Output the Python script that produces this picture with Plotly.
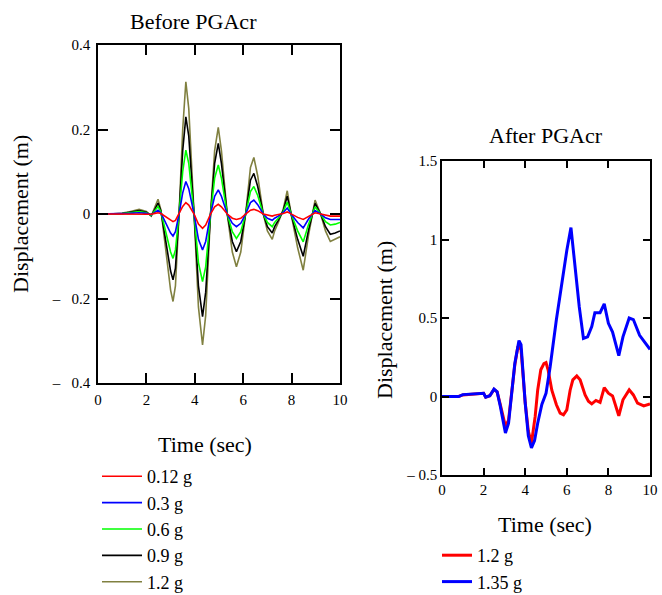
import plotly.graph_objects as go

# ---------------- data: Before PGAcr ----------------
t_before = [0, 0.5, 1.0, 1.3, 1.7, 2.0, 2.2, 2.35, 2.48, 2.6,
            2.8, 3.0, 3.1, 3.2, 3.35, 3.5, 3.63, 3.75, 3.97, 4.15,
            4.32, 4.45, 4.65, 4.82, 4.97, 5.1, 5.34, 5.55, 5.72, 5.9,
            6.1, 6.3, 6.44, 6.6, 6.83, 7.0, 7.2, 7.3, 7.45, 7.65,
            7.82, 8.0, 8.25, 8.48, 8.7, 8.97, 9.2, 9.4, 9.6, 9.8, 10]

d_012 = [0, 0, 0, 0.0005, 0.001, 0.0005, -0.0005, 0.0015, 0.003, 0.001,
         -0.007, -0.016, -0.018, -0.015, 0.0, 0.018, 0.027, 0.021, 0.0, -0.024,
         -0.034, -0.026, 0.0, 0.017, 0.023, 0.017, 0.0, -0.01, -0.013, -0.01,
         0.0, 0.009, 0.011, 0.008, 0.0, -0.003, -0.005, -0.003, -0.002, 0.001,
         0.005, -0.001, -0.008, -0.013, -0.005, 0.003, 0.0, -0.003, -0.005, -0.005, -0.005]

d_03 = [0, 0, 0.0005, 0.0015, 0.003, 0.0015, -0.0015, 0.004, 0.009, 0.0025,
        -0.02, -0.045, -0.052, -0.042, 0.0, 0.05, 0.077, 0.06, 0.0, -0.06,
        -0.085, -0.065, 0.0, 0.042, 0.057, 0.042, 0.0, -0.022, -0.03, -0.022,
        0.0, 0.027, 0.033, 0.022, 0.0, -0.01, -0.015, -0.01, -0.005, 0.003,
        0.014, -0.002, -0.02, -0.033, -0.012, 0.008, 0.0, -0.009, -0.013, -0.013, -0.013]

d_06 = [0, 0, 0.001, 0.003, 0.006, 0.003, -0.003, 0.008, 0.018, 0.005,
        -0.04, -0.09, -0.105, -0.085, 0.0, 0.1, 0.151, 0.12, 0.0, -0.115,
        -0.16, -0.125, 0.0, 0.085, 0.116, 0.085, 0.0, -0.042, -0.058, -0.042,
        0.0, 0.053, 0.065, 0.044, 0.0, -0.02, -0.03, -0.02, -0.01, 0.005,
        0.028, -0.003, -0.04, -0.066, -0.025, 0.017, 0.0, -0.018, -0.026, -0.024, -0.02]

d_09 = [0, 0, 0.001, 0.004, 0.008, 0.004, -0.004, 0.011, 0.026, 0.007,
        -0.06, -0.135, -0.156, -0.128, 0.0, 0.15, 0.23, 0.185, 0.0, -0.17,
        -0.243, -0.185, 0.0, 0.12, 0.167, 0.12, 0.0, -0.065, -0.089, -0.065,
        0.0, 0.08, 0.096, 0.065, 0.0, -0.03, -0.045, -0.03, -0.015, 0.008,
        0.042, -0.005, -0.06, -0.1, -0.038, 0.025, 0.0, -0.03, -0.048, -0.045, -0.04]

d_12 = [0, 0, 0.002, 0.005, 0.011, 0.006, -0.005, 0.015, 0.035, 0.01,
        -0.08, -0.18, -0.207, -0.17, 0.0, 0.2, 0.313, 0.25, 0.0, -0.22,
        -0.31, -0.24, 0.0, 0.15, 0.205, 0.15, 0.0, -0.09, -0.125, -0.09,
        0.0, 0.11, 0.134, 0.09, 0.0, -0.04, -0.06, -0.04, -0.02, 0.01,
        0.055, -0.006, -0.08, -0.133, -0.05, 0.033, 0.0, -0.04, -0.065, -0.06, -0.054]

before_names = ["0.12 g", "0.3 g", "0.6 g", "0.9 g", "1.2 g"]
before_colors = ["#ff0000", "#0000ff", "#00ff00", "#000000", "#808040"]
before_series = [d_012, d_03, d_06, d_09, d_12]

# ---------------- data: After PGAcr ----------------
t_after_12 = [0, 0.8, 1.0, 1.5, 2.0, 2.1, 2.3, 2.5, 2.65, 2.8,
              3.05, 3.2, 3.3, 3.5, 3.65, 3.8, 4.0, 4.15, 4.3, 4.48,
              4.6, 4.75, 4.9, 5.0, 5.1, 5.28, 5.5, 5.68, 5.84, 6.0,
              6.16, 6.29, 6.48, 6.64, 6.88, 7.04, 7.2, 7.4, 7.6, 7.8,
              8.0, 8.2, 8.5, 8.7, 9.0, 9.2, 9.4, 9.7, 10]
a_12 = [0, 0, 0.01, 0.015, 0.02, -0.004, 0.005, 0.045, 0.03, -0.05,
        -0.19, -0.15, -0.04, 0.2, 0.32, 0.3, -0.04, -0.22, -0.297, -0.127,
        0.04, 0.17, 0.21, 0.216, 0.17, 0.04, -0.053, -0.106, -0.117, -0.085,
        0.04, 0.106, 0.131, 0.106, 0.01, -0.03, -0.047, -0.025, -0.038, 0.057,
        0.021, 0.004, -0.123, -0.021, 0.042, 0.01, -0.042, -0.06, -0.047]

t_after_135 = [0, 0.8, 1.0, 1.5, 2.0, 2.1, 2.3, 2.5, 2.65, 2.8,
               3.05, 3.2, 3.3, 3.5, 3.7, 3.8, 4.0, 4.15, 4.3, 4.45,
               4.6, 4.8, 5.0, 5.2, 5.5, 5.8, 6.0, 6.2, 6.4, 6.6,
               6.8, 7.0, 7.2, 7.35, 7.6, 7.8, 8.0, 8.2, 8.5, 8.7,
               9.0, 9.2, 9.5, 10]
a_135 = [0, 0, 0.012, 0.017, 0.02, -0.004, 0.005, 0.047, 0.03, -0.06,
         -0.233, -0.17, -0.04, 0.21, 0.356, 0.33, -0.04, -0.25, -0.328, -0.28,
         -0.17, -0.05, 0.02, 0.19, 0.49, 0.77, 0.93, 1.076, 0.826, 0.57,
         0.37, 0.38, 0.445, 0.534, 0.534, 0.59, 0.466, 0.41, 0.26, 0.38,
         0.50, 0.49, 0.39, 0.30]

after_names = ["1.2 g", "1.35 g"]
after_colors = ["#ff0000", "#0000ff"]

x_ticks = [0, 2, 4, 6, 8, 10]
y_ticks_before = [-0.4, -0.2, 0, 0.2, 0.4]
y_text_before = ["\u2013\u2002 0.4", "\u2013\u2002 0.2", "0", "0.2", "0.4"]
y_ticks_after = [-0.5, 0, 0.5, 1, 1.5]
y_text_after = ["\u2013 0.5", "0", "0.5", "1", "1.5"]

W, H = 662, 595
FONT = "Liberation Serif"

def px(x):
    return x / W

def py(y):
    return 1 - y / H

fig = go.Figure()

# draw heavier series first so the small ones stay on top
for i in reversed(range(len(before_series))):
    fig.add_trace(go.Scatter(
        x=t_before, y=before_series[i], mode="lines", name=before_names[i],
        line=dict(color=before_colors[i], width=1.6),
        xaxis="x", yaxis="y", legend="legend", legendrank=i + 1))

fig.add_trace(go.Scatter(
    x=t_after_12, y=a_12, mode="lines", name=after_names[0],
    line=dict(color=after_colors[0], width=3),
    xaxis="x2", yaxis="y2", legend="legend2", legendrank=1))
fig.add_trace(go.Scatter(
    x=t_after_135, y=a_135, mode="lines", name=after_names[1],
    line=dict(color=after_colors[1], width=3),
    xaxis="x2", yaxis="y2", legend="legend2", legendrank=2))

axis_common = dict(showline=True, linecolor="black", linewidth=1.5, mirror="ticks",
                   ticks="inside", tickcolor="black", tickwidth=1.5,
                   showgrid=False, zeroline=False,
                   tickfont=dict(family=FONT, size=15, color="black"))

fig.update_layout(
    width=W, height=H,
    margin=dict(l=0, r=0, t=0, b=0, autoexpand=False),
    paper_bgcolor="white", plot_bgcolor="white",
    font=dict(family=FONT, color="black"),
    xaxis=dict(domain=[px(98), px(340)], range=[0, 10], tickvals=x_ticks,
               ticklen=10, ticklabelstandoff=2, anchor="y", **axis_common),
    yaxis=dict(domain=[py(383), py(45)], range=[-0.4, 0.4], tickvals=y_ticks_before,
               ticktext=y_text_before, ticklen=10, ticklabelstandoff=3, anchor="x",
               **axis_common),
    xaxis2=dict(domain=[px(442), px(650)], range=[0, 10], tickvals=x_ticks,
                ticklen=7, ticklabelstandoff=0, anchor="y2", **axis_common),
    yaxis2=dict(domain=[py(475), py(161)], range=[-0.5, 1.5], tickvals=y_ticks_after,
                ticktext=y_text_after, ticklen=7, ticklabelstandoff=0, anchor="x2",
                **axis_common),
    legend=dict(x=px(97), y=py(458), xanchor="left", yanchor="top",
                font=dict(family=FONT, size=18, color="black"),
                bgcolor="rgba(0,0,0,0)", borderwidth=0, tracegroupgap=0,
                itemwidth=40),
    legend2=dict(x=px(437), y=py(537), xanchor="left", yanchor="top",
                 font=dict(family=FONT, size=18, color="black"),
                 bgcolor="rgba(0,0,0,0)", borderwidth=0, tracegroupgap=0,
                 itemwidth=30),
    showlegend=True,
)

ann_font = dict(family=FONT, size=22, color="black")
annotations = [
    dict(text="Before PGAcr", x=px(193), y=py(22)),
    dict(text="Time (sec)", x=px(205), y=py(444)),
    dict(text="Displacement (m)", x=px(20), y=py(214), textangle=-90),
    dict(text="After PGAcr", x=px(546), y=py(136)),
    dict(text="Time (sec)", x=px(545), y=py(524)),
    dict(text="Displacement (m)", x=px(384), y=py(320), textangle=-90),
]
for a in annotations:
    fig.add_annotation(xref="paper", yref="paper", xanchor="center", yanchor="middle",
                       showarrow=False, font=ann_font, **a)

fig.write_html("out.html")
